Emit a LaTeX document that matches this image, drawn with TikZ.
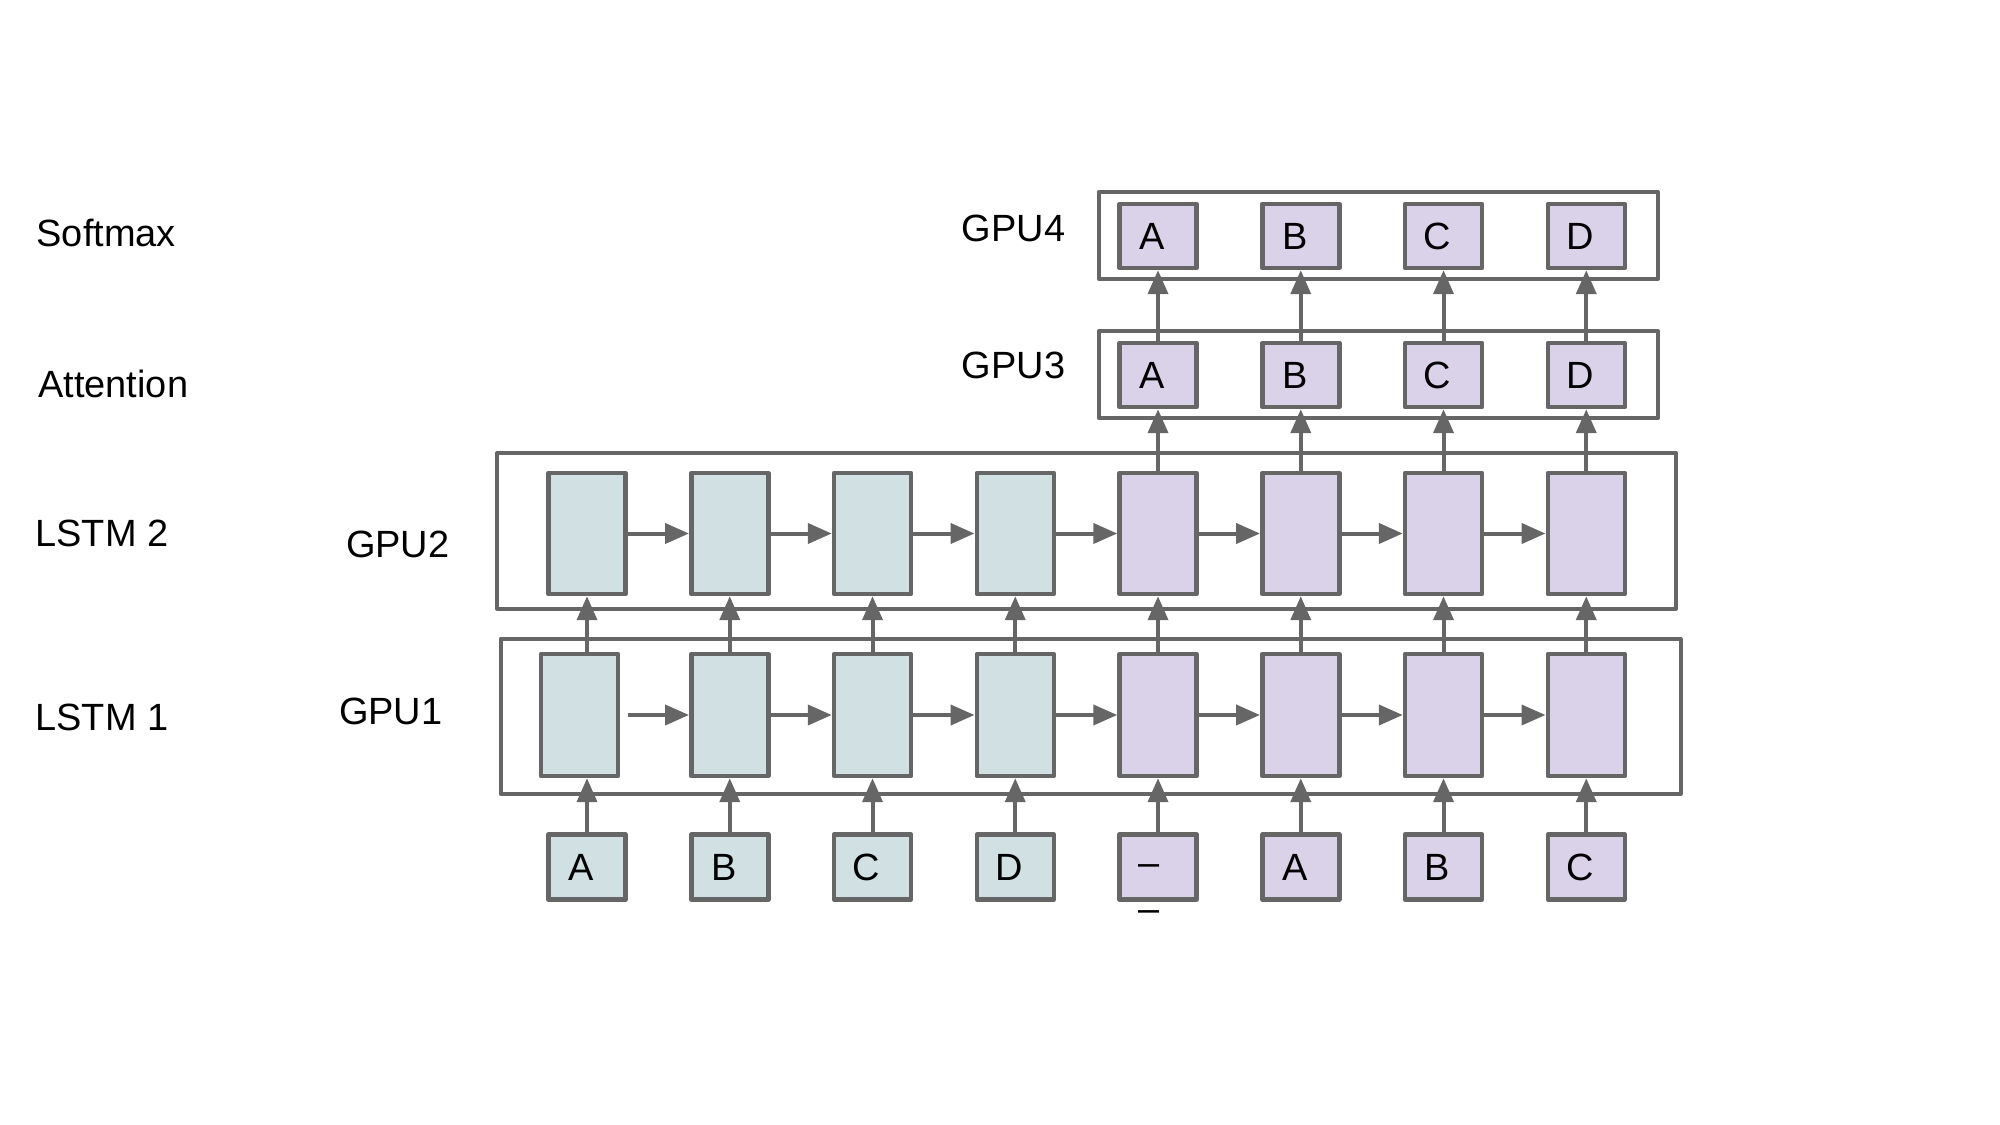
\documentclass[tikz,border=0pt]{standalone}
\usepackage{fontspec}
\setmainfont{Liberation Sans}
\usetikzlibrary{arrows.meta}
\definecolor{edgegray}{HTML}{666666}
\definecolor{encfill}{HTML}{D0E0E3}
\definecolor{decfill}{HTML}{D9D2E9}
\begin{document}
\begin{tikzpicture}[x=0.02cm,y=-0.02cm,
  every node/.style={font=\fontsize{21.6}{26}\selectfont},
  lab/.style={anchor=base west, inner sep=0},
  cellbox/.style={draw=edgegray, line width=0.09cm, line join=round, inner sep=0, minimum width=1.54cm},
  tall/.style={cellbox, minimum height=2.42cm},
  short/.style={cellbox, minimum height=1.28cm},
  enc/.style={fill=encfill},
  dec/.style={fill=decfill},
  groupbox/.style={draw=edgegray, line width=0.08cm, line join=round},
  conn/.style={draw=edgegray, line width=0.08cm, -{Triangle[length=0.48cm,width=0.4cm]}}
]
\useasboundingbox (0,0) rectangle (2000,1125);

% row labels
\node[lab] (tsoft) at (36.3,246) {Softmax};
\node[lab] (tatt) at (38,397) {Attention};
\node[lab] (tl2) at (35.1,546) {LSTM 2};
\node[lab] (tl1) at (35.1,730) {LSTM 1};
\node[lab] (tg4) at (961.5,241.7) {GPU4};
\node[lab] (tg3) at (961.5,378) {GPU3};
\node[lab] (tg2) at (345.7,557) {GPU2};
\node[lab] (tg1) at (338.8,724) {GPU1};

% GPU group boxes
\draw[groupbox] (1098.7,192) rectangle (1658,278.7);
\draw[groupbox] (1098.7,331) rectangle (1658,418);
\draw[groupbox] (497,453.3) rectangle (1676.3,608.5);
\draw[groupbox] (500.5,638.7) rectangle (1680.5,794);

% LSTM 2 cells
\foreach \i in {1,...,8}{
  \pgfmathsetmacro\cx{587+(\i-1)*142.75}
  \ifnum\i<5
    \node[tall,enc] (la\i) at (\cx,533.5) {};
  \else
    \node[tall,dec] (la\i) at (\cx,533.5) {};
  \fi
}
% LSTM 1 cells
\node[tall,enc,minimum height=2.44cm] (lb1) at (579.5,715) {};
\foreach \i in {2,...,8}{
  \pgfmathsetmacro\cx{587+(\i-1)*142.75}
  \ifnum\i<5
    \node[tall,enc,minimum height=2.44cm] (lb\i) at (\cx,715) {};
  \else
    \node[tall,dec,minimum height=2.44cm] (lb\i) at (\cx,715) {};
  \fi
}
% inputs
\foreach \i/\t in {1/A,2/B,3/C,4/D}{
  \pgfmathsetmacro\cx{587+(\i-1)*142.75}
  \node[short,enc,minimum height=1.3cm] (in\i) at (\cx,867) {\t\kern0.24cm};
}
\node[short,dec,minimum height=1.3cm,text height=0.34cm,text depth=0cm] (in5) at (1158,867) {–\kern0.37cm};
\foreach \i/\t in {6/A,7/B,8/C}{
  \pgfmathsetmacro\cx{587+(\i-1)*142.75}
  \node[short,dec,minimum height=1.3cm] (in\i) at (\cx,867) {\t\kern0.24cm};
}
\node[anchor=base, inner sep=0] (dashbelow) at (1148.7,921.5) {–};

% attention and softmax cells
\foreach \k/\t in {1/A,2/B,3/C,4/D}{
  \pgfmathsetmacro\cx{587+(\k+3)*142.75}
  \node[short,dec] (at\k) at (\cx,375) {\t\kern0.24cm};
  \node[short,dec] (sm\k) at (\cx,236) {\t\kern0.24cm};
}

% horizontal connectors
\foreach \i [evaluate=\i as \j using int(\i+1)] in {1,...,7}{
  \draw[conn] (la\i.east) -- (la\j.west);
}
\coordinate (lbstart) at (627.5,715);
\draw[conn] (lbstart) -- (lb2.west);
\foreach \i [evaluate=\i as \j using int(\i+1)] in {2,...,7}{
  \draw[conn] (lb\i.east) -- (lb\j.west);
}

% vertical connectors
\draw[conn] (in1.north) -- (in1.north |- lb1.south);
\draw[conn] (la1.south |- lb1.north) -- (la1.south);
\foreach \i in {2,...,8}{
  \draw[conn] (in\i.north) -- (lb\i.south);
  \draw[conn] (lb\i.north) -- (la\i.south);
}
\foreach \k [evaluate=\k as \i using int(\k+4)] in {1,...,4}{
  \draw[conn] (la\i.north) -- (at\k.south);
  \draw[conn] (at\k.north) -- (sm\k.south);
}
\end{tikzpicture}
\end{document}
